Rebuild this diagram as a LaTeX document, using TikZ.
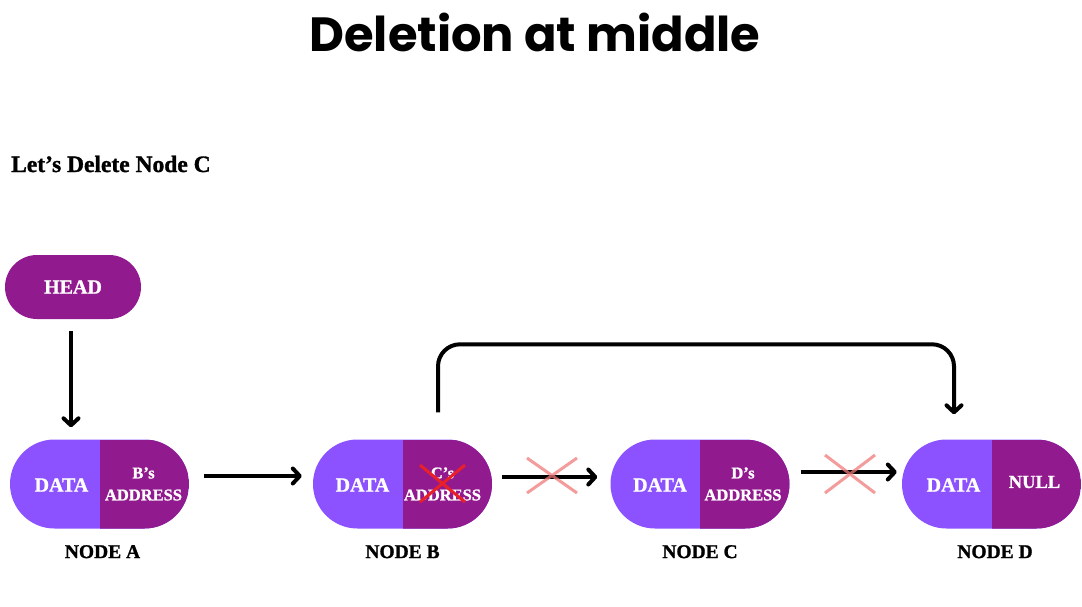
\documentclass[tikz,border=0pt]{standalone}
\usepackage{fontspec}
\setmainfont{Liberation Serif}[BoldFeatures={FakeBold=1.2}]
\newfontfamily\titlefont{Poppins}
\usetikzlibrary{arrows.meta,calc,positioning,shapes.misc}
\definecolor{lpurple}{HTML}{8C52FF}
\definecolor{dpurple}{HTML}{921A8F}
\definecolor{xpink}{HTML}{F07A7A}
\definecolor{xred}{HTML}{E8202A}
\newcommand{\fs}[1]{\fontsize{#1}{#1}\selectfont\bfseries}
\tikzset{
  listnode/.style={rounded rectangle, minimum width=179pt, minimum height=89pt,
    inner sep=0pt, fill=lpurple,
    path picture={\fill[dpurple] (path picture bounding box.north)
      rectangle (path picture bounding box.south east);}},
  headnode/.style={rounded rectangle, minimum width=136pt, minimum height=64pt,
    inner sep=0pt, fill=dpurple, text=white, font=\fs{20}},
  datatxt/.style={text=white, font=\fs{20}},
  addrtxt/.style={text=white, align=center, font=\fontsize{16.5}{22}\selectfont\bfseries},
  nodelbl/.style={font=\fs{19.5}},
  link/.style={line width=4pt, line join=round,
    -{Straight Barb[length=7pt,width=15pt,line width=4pt,round]}},
  gone/.style={line width=3pt, xpink, opacity=0.75},
  strike/.style={line width=3pt, xred}
}

\begin{document}
\begin{tikzpicture}[x=1pt, y=-1pt]
  \useasboundingbox (0,0) rectangle (1082,606);

  \node[anchor=base, font=\titlefont\bfseries\fontsize{48}{48}\selectfont] (title) at (535,51) {Deletion at middle};
  \node[anchor=base west, inner sep=0pt, font=\fs{23.5}] (sub) at (11,172) {Let’s Delete Node C};

  \node[headnode] (head) at (73,287) {HEAD};

  \node[listnode] (nA) at ( 99.5,484) {};
  \node[listnode] (nB) at (402.5,484) {};
  \node[listnode] (nC) at (  700,484) {};
  \node[listnode] (nD) at (991.5,484) {};

  \node[datatxt] (dA) at ($(nA.center)+(-38,1)$) {DATA};
  \node[datatxt] (dB) at ($(nB.center)+(-40,1)$) {DATA};
  \node[datatxt] (dC) at ($(nC.center)+(-40,1)$) {DATA};
  \node[datatxt] (dD) at ($(nD.center)+(-38,1)$) {DATA};

  \node[addrtxt] (aA) at ($(nA.center)+(44,0)$) {B’s\\ADDRESS};
  \node[addrtxt] (aB) at ($(nB.center)+(40,0)$) {C’s\\ADDRESS};
  \node[addrtxt] (aC) at ($(nC.center)+(43,0)$) {D’s\\ADDRESS};
  \node[datatxt, font=\fs{18.5}] (aD) at ($(nD.center)+(43,-2)$) {NULL};

  \node[nodelbl] (lA) at ($(nA.south)+(3,23)$) {NODE A};
  \node[nodelbl] (lB) at ($(nB.south)+(0,23)$) {NODE B};
  \node[nodelbl] (lC) at ($(nC.south)+(0,23)$) {NODE C};
  \node[nodelbl] (lD) at ($(nD.south)+(3.5,23)$) {NODE D};

  % links
  \draw[link] ([xshift=-2pt,yshift=-12pt]head.south) -- ([xshift=-28.5pt,yshift=12pt]nA.north);
  \draw[link] ([xshift=15pt,yshift=8pt]nA.east) -- ([xshift=-11pt,yshift=8pt]nB.west);
  \draw[link] ([xshift=10pt,yshift=7pt]nB.east) -- ([xshift=-13pt,yshift=7pt]nC.west);
  \draw[link] ([xshift=11pt,yshift=12pt]nC.east) -- ([xshift=-5pt,yshift=12pt]nD.west);
  \draw[link, rounded corners=22pt] ([xshift=35.5pt,yshift=27pt]nB.north)
    -- ++(0,-68) -| ([xshift=-37.5pt,yshift=25pt]nD.north);

  % crosses
  \draw[gone] (527,458) -- (577,493) (527,493) -- (577,458);
  \draw[gone] (825,455) -- (875,493) (825,493) -- (875,455);
  \draw[strike] (420,502) -- (465,465) (420,465) -- (465,502);
\end{tikzpicture}
\end{document}
